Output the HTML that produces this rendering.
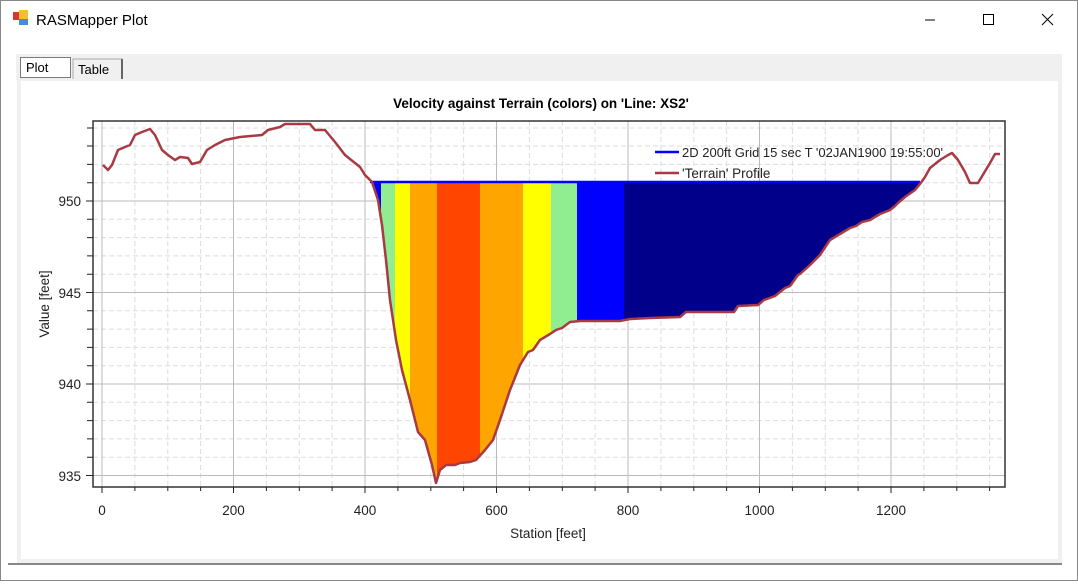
<!DOCTYPE html>
<html><head><style>
body{margin:0;width:1078px;height:581px;overflow:hidden;background:#fff;font-family:"Liberation Sans",sans-serif;}
</style></head><body>
<svg width="1078" height="581" xmlns="http://www.w3.org/2000/svg" font-family="Liberation Sans, sans-serif">
<rect x="0" y="0" width="1078" height="581" fill="#fff"/>
<rect x="0.5" y="0.5" width="1077" height="580" fill="none" stroke="#888"/>
<rect x="13" y="12" width="8" height="8" fill="#d33"/><rect x="19" y="10" width="9" height="9" fill="#f5c030"/><rect x="19" y="19" width="9" height="6" fill="#4a8ad8"/>
<text x="36" y="25" font-size="15" fill="#000">RASMapper Plot</text>
<line x1="925" y1="20" x2="935" y2="20" stroke="#000"/>
<rect x="983.5" y="14.5" width="10" height="10" fill="none" stroke="#000"/>
<path d="M1042 14 L1053 25 M1053 14 L1042 25" stroke="#000"/>
<rect x="16" y="54" width="1046" height="26" fill="#f0f0f0"/>
<rect x="17" y="78" width="1045" height="486" fill="#f0f0f0"/>
<rect x="21" y="81" width="1037" height="478" fill="#fff"/>
<line x1="8" y1="564" x2="1062" y2="564" stroke="#888" stroke-width="2"/>
<rect x="20.5" y="57.5" width="50" height="20" fill="#fff" stroke="#000" stroke-dasharray="1,1"/>
<text x="26" y="72" font-size="13">Plot</text>
<path d="M73 79 V59 H122 V79" fill="#f0f0f0" stroke="#aaa"/>
<line x1="122" y1="59" x2="122" y2="79" stroke="#666" stroke-width="2"/>
<text x="78" y="74" font-size="13">Table</text>
<text x="541" y="108" font-size="13.5" font-weight="bold" text-anchor="middle">Velocity against Terrain (colors) on 'Line: XS2'</text>
<g stroke="#ddd" stroke-dasharray="5,3">
<line x1="134.9" y1="121" x2="134.9" y2="487"/><line x1="167.8" y1="121" x2="167.8" y2="487"/><line x1="200.6" y1="121" x2="200.6" y2="487"/>
<line x1="266.4" y1="121" x2="266.4" y2="487"/><line x1="299.3" y1="121" x2="299.3" y2="487"/><line x1="332.1" y1="121" x2="332.1" y2="487"/>
<line x1="397.9" y1="121" x2="397.9" y2="487"/><line x1="430.8" y1="121" x2="430.8" y2="487"/><line x1="463.6" y1="121" x2="463.6" y2="487"/>
<line x1="529.4" y1="121" x2="529.4" y2="487"/><line x1="562.3" y1="121" x2="562.3" y2="487"/><line x1="595.1" y1="121" x2="595.1" y2="487"/>
<line x1="660.9" y1="121" x2="660.9" y2="487"/><line x1="693.8" y1="121" x2="693.8" y2="487"/><line x1="726.6" y1="121" x2="726.6" y2="487"/>
<line x1="792.4" y1="121" x2="792.4" y2="487"/><line x1="825.3" y1="121" x2="825.3" y2="487"/><line x1="858.1" y1="121" x2="858.1" y2="487"/>
<line x1="923.9" y1="121" x2="923.9" y2="487"/><line x1="956.8" y1="121" x2="956.8" y2="487"/><line x1="989.6" y1="121" x2="989.6" y2="487"/>
<line x1="93" y1="128" x2="1005" y2="128"/><line x1="93" y1="146" x2="1005" y2="146"/><line x1="93" y1="164.4" x2="1005" y2="164.4"/><line x1="93" y1="182.7" x2="1005" y2="182.7"/>
<line x1="93" y1="219.3" x2="1005" y2="219.3"/><line x1="93" y1="237.6" x2="1005" y2="237.6"/><line x1="93" y1="255.9" x2="1005" y2="255.9"/><line x1="93" y1="274.2" x2="1005" y2="274.2"/>
<line x1="93" y1="310.8" x2="1005" y2="310.8"/><line x1="93" y1="329.1" x2="1005" y2="329.1"/><line x1="93" y1="347.4" x2="1005" y2="347.4"/><line x1="93" y1="365.7" x2="1005" y2="365.7"/>
<line x1="93" y1="402.3" x2="1005" y2="402.3"/><line x1="93" y1="420.6" x2="1005" y2="420.6"/><line x1="93" y1="438.9" x2="1005" y2="438.9"/><line x1="93" y1="457.2" x2="1005" y2="457.2"/>
</g>
<g stroke="#bbb">
<line x1="102" y1="121" x2="102" y2="487"/><line x1="233.5" y1="121" x2="233.5" y2="487"/><line x1="365" y1="121" x2="365" y2="487"/><line x1="496.5" y1="121" x2="496.5" y2="487"/><line x1="628" y1="121" x2="628" y2="487"/><line x1="759.5" y1="121" x2="759.5" y2="487"/><line x1="891" y1="121" x2="891" y2="487"/>
<line x1="93" y1="201" x2="1005" y2="201"/><line x1="93" y1="292.5" x2="1005" y2="292.5"/><line x1="93" y1="384" x2="1005" y2="384"/><line x1="93" y1="475.5" x2="1005" y2="475.5"/>
</g>
<defs><clipPath id="w"><polygon points="372,182 378,200 382,225 386,260 390,300 396,340 402,370 410,400 418,432 425,440 432,465 436,483 440,470 446,465 455,465 460,463 470,462 476,460 485,450 493,440 500,420 510,390 520,365 528,352 533,350 540,340 550,334 556,330 562,328 570,322 580,321 600,321 620,321 630,319 650,318 680,317 686,312 705,312 734,312 738,306 758,305 764,300 775,296 785,288 790,286 798,275 800,274 810,265 820,255 830,240 835,237 845,231 850,228 856,226 862,222 870,220 880,214 890,210 895,206 898,203 905,197 915,190 920,182"/></clipPath></defs>
<g clip-path="url(#w)">
<rect x="370" y="182" width="11" height="310" fill="#0000ff"/>
<rect x="381" y="182" width="14" height="310" fill="#90ee90"/>
<rect x="395" y="182" width="15" height="310" fill="#ffff00"/>
<rect x="410" y="182" width="27" height="310" fill="#ffa500"/>
<rect x="437" y="182" width="43" height="310" fill="#ff4500"/>
<rect x="480" y="182" width="43" height="310" fill="#ffa500"/>
<rect x="523" y="182" width="28" height="310" fill="#ffff00"/>
<rect x="551" y="182" width="26" height="310" fill="#90ee90"/>
<rect x="577" y="182" width="47" height="310" fill="#0000ff"/>
<rect x="624" y="182" width="300" height="310" fill="#00008b"/>
</g>
<line x1="370" y1="182" x2="920" y2="182" stroke="#0000ff" stroke-width="2.5"/>
<polyline fill="none" stroke="#a83a44" stroke-width="2.5" stroke-linejoin="round" points="103,165 108,170 112,165 118,150 125,147 130,145 135,135 142,132 150,129 155,135 162,150 168,155 175,160 180,157 188,158 192,164 200,162 207,150 215,145 225,140 240,137 262,135 268,130 280,127 285,124 310,124 315,130 325,130 335,142 345,155 355,163 360,167 365,175 372,182 378,200 382,225 386,260 390,300 396,340 402,370 410,400 418,432 425,440 432,465 436,483 440,470 446,465 455,465 460,463 470,462 476,460 485,450 493,440 500,420 510,390 520,365 528,352 533,350 540,340 550,334 556,330 562,328 570,322 580,321 600,321 620,321 630,319 650,318 680,317 686,312 705,312 734,312 738,306 758,305 764,300 775,296 785,288 790,286 798,275 800,274 810,265 820,255 830,240 835,237 845,231 850,228 856,226 862,222 870,220 880,214 890,210 895,206 898,203 905,197 915,190 920,184 925,177 930,168 940,160 948,155 952,153 958,160 965,172 970,183 978,183 990,163 995,154 1000,154"/>
<line x1="655" y1="152" x2="679" y2="152" stroke="#0000ff" stroke-width="2.5"/>
<text x="682" y="157" font-size="13" fill="#222">2D 200ft Grid 15 sec T '02JAN1900 19:55:00'</text>
<line x1="655" y1="173" x2="679" y2="173" stroke="#a83a44" stroke-width="2.5"/>
<text x="682" y="178" font-size="13.5" fill="#222">'Terrain' Profile</text>
<rect x="93" y="121" width="912" height="366" fill="none" stroke="#333" stroke-width="1.5"/>
<g stroke="#222">
<path d="M102 487v6M134.9 487v4M167.8 487v4M200.6 487v4M233.5 487v6M266.4 487v4M299.3 487v4M332.1 487v4M365 487v6M397.9 487v4M430.8 487v4M463.6 487v4M496.5 487v6M529.4 487v4M562.3 487v4M595.1 487v4M628 487v6M660.9 487v4M693.8 487v4M726.6 487v4M759.5 487v6M792.4 487v4M825.3 487v4M858.1 487v4M891 487v6M923.9 487v4M956.8 487v4M989.6 487v4"/>
<path d="M87 128h6M87 146h6M87 164.4h6M87 182.7h6M86 201h7M87 219.3h6M87 237.6h6M87 255.9h6M87 274.2h6M86 292.5h7M87 310.8h6M87 329.1h6M87 347.4h6M87 365.7h6M86 384h7M87 402.3h6M87 420.6h6M87 438.9h6M87 457.2h6M86 475.5h7"/>
</g>
<g font-size="13.5" fill="#222" text-anchor="middle">
<text x="102" y="515">0</text><text x="233.5" y="515">200</text><text x="365" y="515">400</text><text x="496.5" y="515">600</text><text x="628" y="515">800</text><text x="759.5" y="515">1000</text><text x="891" y="515">1200</text>
<text x="548" y="538">Station [feet]</text>
</g>
<g font-size="13.5" fill="#222" text-anchor="end">
<text x="81" y="206">950</text><text x="81" y="298">945</text><text x="81" y="389">940</text><text x="81" y="481">935</text>
</g>
<text transform="translate(49,304) rotate(-90)" font-size="13.5" fill="#222" text-anchor="middle">Value [feet]</text>
</svg>
</body></html>
